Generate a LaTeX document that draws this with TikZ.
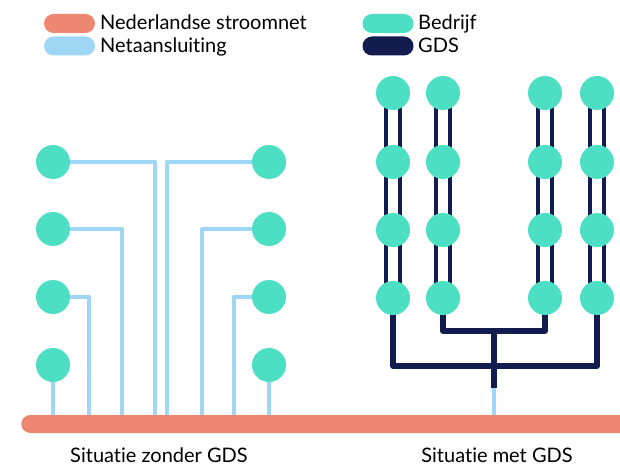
\documentclass[tikz,border=0pt]{standalone}
\usepackage{fontspec}
\setmainfont{Lato}[Ligatures={NoCommon}]
\usetikzlibrary{backgrounds}
\definecolor{netorange}{RGB}{238,135,112}
\definecolor{netblue}{RGB}{160,214,245}
\definecolor{bedrijf}{RGB}{76,223,196}
\definecolor{gdsnavy}{RGB}{19,28,78}
\begin{document}
\begin{tikzpicture}[x=1pt,y=-1pt,
  firm/.style={circle, fill=bedrijf, minimum size=34pt, inner sep=0pt},
  pill/.style={rounded corners=9.5pt, minimum width=51pt, minimum height=19pt, inner sep=0pt},
  legtext/.style={anchor=base west, inner sep=0pt, font=\fontsize{20}{22}\selectfont},
  conn/.style={draw=netblue, line width=4.8pt, line join=round},
  gdsdouble/.style={draw=gdsnavy, line width=3.2pt, double=white, double distance=10.8pt},
  gdstree/.style={draw=gdsnavy, line width=5.5pt, line join=round},
  captext/.style={anchor=base, font=\fontsize{20}{22}\selectfont, inner sep=0pt}
]
\useasboundingbox (0,0) rectangle (620,465);

% legend
\node[pill, fill=netorange] (p1) at (69.5,23.5) {};
\node[legtext] (t1) at (100,30) {Nederlandse stroomnet};
\node[pill, fill=netblue] (p2) at (69.5,46) {};
\node[legtext] (t2) at (100,53) {Netaansluiting};
\node[pill, fill=bedrijf] (p3) at (388,23.5) {};
\node[legtext] (t3) at (418,30) {Bedrijf};
\node[pill, fill=gdsnavy] (p4) at (388,46) {};
\node[legtext] (t4) at (418,53) {GDS};

% left: companies without GDS
\node[firm] (L1) at (53,162) {};
\node[firm] (L2) at (53,229) {};
\node[firm] (L3) at (53,297) {};
\node[firm] (L4) at (53,365) {};
\node[firm] (R1) at (269,162) {};
\node[firm] (R2) at (269,229) {};
\node[firm] (R3) at (269,297) {};
\node[firm] (R4) at (269,365) {};

\coordinate (dL1) at (155,424);
\coordinate (dL2) at (122,424);
\coordinate (dL3) at (89,424);
\coordinate (dL4) at (53,424);
\coordinate (dR1) at (167,424);
\coordinate (dR2) at (202,424);
\coordinate (dR3) at (234,424);
\coordinate (dR4) at (269,424);

% right: companies with GDS
\foreach \c/\x in {1/393,2/443,3/545,4/597}{
  \foreach \r/\y in {1/93,2/162,3/230,4/298}{
    \node[firm] (g\c\r) at (\x,\y) {};
  }
}
\coordinate (j1) at (494,366);
\coordinate (j2) at (494,331);
\coordinate (j3) at (494,388);
\coordinate (dG) at (494,424);

\begin{scope}[on background layer]
  \draw[conn] (L1.center) -| (dL1);
  \draw[conn] (L2.center) -| (dL2);
  \draw[conn] (L3.center) -| (dL3);
  \draw[conn] (L4.center) -- (dL4);
  \draw[conn] (R1.center) -| (dR1);
  \draw[conn] (R2.center) -| (dR2);
  \draw[conn] (R3.center) -| (dR3);
  \draw[conn] (R4.center) -- (dR4);
  \foreach \c in {1,2,3,4}{
    \draw[gdsdouble] (g\c1.center) -- (g\c4.center);
  }
  \draw[gdstree] (g14.center) |- (j1) -| (g44.center);
  \draw[gdstree] (g24.center) |- (j2) -| (g34.center);
  \draw[gdstree] (j2) -- (j3);
  \draw[conn] (j3) -- (dG);
\end{scope}

% grid bar
\node[fill=netorange, minimum height=18pt, minimum width=640pt, rounded corners=9pt, anchor=west, inner sep=0pt] (net) at (21,424) {};

% captions
\node[captext] (cap1) at (159,462) {Situatie zonder GDS};
\node[captext] (cap2) at (497,462) {Situatie met GDS};
\end{tikzpicture}
\end{document}
